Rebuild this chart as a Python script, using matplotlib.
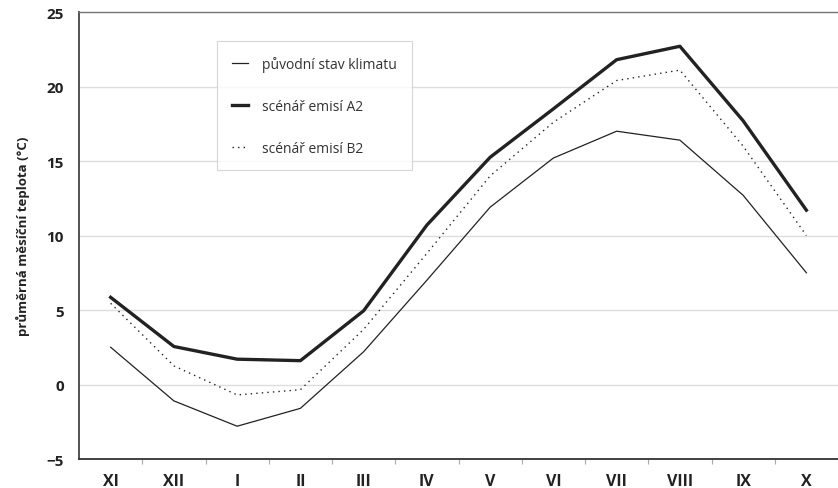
import matplotlib.pyplot as plt
from matplotlib.ticker import FixedLocator

months = ['XI', 'XII', 'I', 'II', 'III', 'IV', 'V', 'VI', 'VII', 'VIII', 'IX', 'X']
puvodni = [2.5, -1.1, -2.8, -1.6, 2.2, 7.0, 11.9, 15.2, 17.0, 16.4, 12.7, 7.5]
scenar_a2 = [5.85, 2.55, 1.7, 1.6, 4.95, 10.7, 15.25, 18.5, 21.8, 22.7, 17.7, 11.7]
scenar_b2 = [5.45, 1.25, -0.7, -0.35, 3.7, 8.8, 14.0, 17.6, 20.4, 21.1, 16.0, 10.0]

plt.rcParams['font.family'] = ['Open Sans', 'DejaVu Sans']

fig = plt.figure(figsize=(8.38, 4.89), dpi=100)
ax = fig.add_axes([0.0943, 0.0593, 0.9057, 0.9141])

x = range(len(months))
ax.plot(x, puvodni, color='#222222', lw=0.9, label='původní stav klimatu')
ax.plot(x, scenar_a2, color='#222222', lw=2.4, label='scénář emisí A2')
ax.plot(x, scenar_b2, color='#222222', lw=1.0, linestyle=(0, (1, 3)), label='scénář emisí B2')

ax.set_xlim(-0.5, len(months) - 0.5)
ax.set_ylim(-5, 25)
ax.set_yticks([-5, 0, 5, 10, 15, 20, 25])
ax.set_yticklabels(['\u22125', '0', '5', '10', '15', '20', '25'])
ax.set_xticks(list(x))
ax.set_xticklabels(months)
ax.xaxis.set_minor_locator(FixedLocator([i + 0.5 for i in range(len(months))]))

ax.grid(axis='y', color='#dddddd', lw=1.0)
ax.set_axisbelow(True)

for lab in ax.get_yticklabels():
    lab.set_fontweight('bold')
    lab.set_fontsize(11)
    lab.set_color('#222222')
for lab in ax.get_xticklabels():
    lab.set_fontweight('bold')
    lab.set_fontsize(11.5)
    lab.set_color('#222222')

ax.tick_params(axis='x', which='major', length=0, pad=10)
ax.tick_params(axis='x', which='minor', length=3.5, color='#aaaaaa', width=0.8)
ax.tick_params(axis='y', length=0, pad=11)

ax.spines['right'].set_visible(False)
ax.spines['top'].set_color('#777777')
ax.spines['top'].set_linewidth(1.0)
ax.spines['left'].set_color('#444444')
ax.spines['left'].set_linewidth(1.3)
ax.spines['bottom'].set_color('#333333')
ax.spines['bottom'].set_linewidth(1.3)

ax.set_ylabel('průměrná měsíční teplota (°C)', fontsize=9.5, fontweight='bold',
              color='#222222', labelpad=12)

leg = ax.legend(loc='upper left', bbox_to_anchor=(0.182, 0.935), frameon=True,
                fancybox=False, fontsize=10, handlelength=1.2, handletextpad=1.0,
                labelspacing=1.95, borderpad=1.05, borderaxespad=0)
leg.get_frame().set_edgecolor('#cccccc')
leg.get_frame().set_linewidth(0.8)
for t in leg.get_texts():
    t.set_color('#333333')

fig.savefig('out.png', dpi=100)
